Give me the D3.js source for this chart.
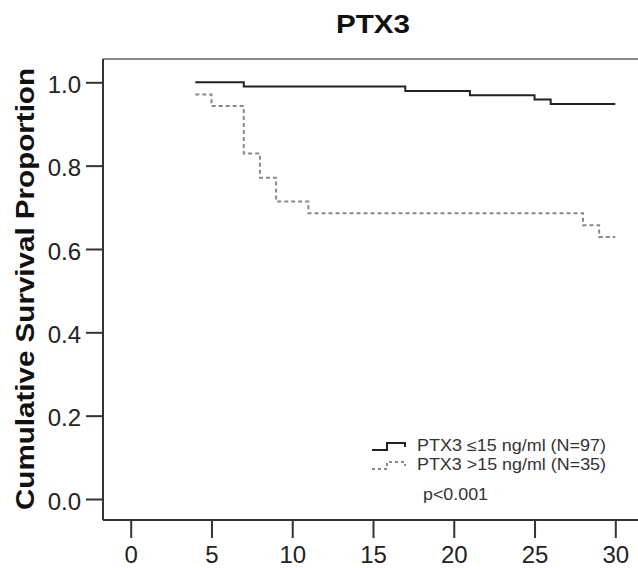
<!DOCTYPE html>
<html>
<head>
<meta charset="utf-8">
<script src="https://cdn.jsdelivr.net/npm/d3@7"></script>
<style>
body { margin: 0; background: #fff; }
svg { display: block; font-family: "Liberation Sans", Arial, sans-serif; }
</style>
</head>
<body>
<div id="chart"></div>
<script>
// survival steps (time in months, proportion)
var lowTimes = [4, 7, 17, 21, 25, 26, 30];
var lowSurv = [1.0, 0.990, 0.979, 0.969, 0.959, 0.948, 0.948];
var highTimes = [4, 5, 7, 8, 9, 11, 28, 29, 30];
var highSurv = [0.971, 0.943, 0.829, 0.771, 0.714, 0.686, 0.657, 0.629, 0.629];
var xTicks = [0, 5, 10, 15, 20, 25, 30];
var yTicks = [0, 0.2, 0.4, 0.6, 0.8, 1.0];
var legendLabels = ["PTX3 \u226415 ng/ml (N=97)", "PTX3 >15 ng/ml (N=35)"];
var titleText = "PTX3";
var yLabel = "Cumulative Survival Proportion";
var pText = "p<0.001";

var W = 638, H = 568;
var frame = { left: 103, top: 59, bottom: 520, right: 640 };

var svg = d3.select("#chart").append("svg")
	.attr("width", W).attr("height", H);

var x = d3.scaleLinear().domain([0, 30]).range([130.7, 615.3]);
var y = d3.scaleLinear().domain([0, 1]).range([499, 82.3]);

// frame: light top line, dark left and bottom axes
svg.append("line")
	.attr("x1", frame.left).attr("x2", frame.right)
	.attr("y1", frame.top).attr("y2", frame.top)
	.attr("stroke", "#8a8a8a").attr("stroke-width", 2);
svg.append("line")
	.attr("x1", frame.left).attr("x2", frame.left)
	.attr("y1", frame.top).attr("y2", frame.bottom)
	.attr("stroke", "#333").attr("stroke-width", 2);
svg.append("line")
	.attr("x1", frame.left).attr("x2", frame.right)
	.attr("y1", frame.bottom).attr("y2", frame.bottom)
	.attr("stroke", "#333").attr("stroke-width", 2);

// y axis
var yAxis = d3.axisLeft(y).tickValues(yTicks).tickSize(16).tickPadding(5)
	.tickFormat(d3.format(".1f"));
var gy = svg.append("g").attr("transform", "translate(" + (frame.left - 1) + ",0)").call(yAxis);
gy.select(".domain").remove();
gy.selectAll(".tick line").attr("stroke", "#333").attr("stroke-width", 2);
gy.selectAll(".tick text")
	.attr("fill", "#222").style("font-size", "24px")
	.attr("dy", "0.42em");

// x axis
var xAxis = d3.axisBottom(x).tickValues(xTicks).tickSize(17).tickPadding(8);
var gx = svg.append("g").attr("transform", "translate(0," + (frame.bottom + 1) + ")").call(xAxis);
gx.select(".domain").remove();
gx.selectAll(".tick line").attr("stroke", "#333").attr("stroke-width", 2);
gx.selectAll(".tick text")
	.attr("fill", "#222").style("font-size", "24px");

// curves
var step = d3.line()
	.x(function (d) { return x(d[0]); })
	.y(function (d) { return y(d[1]); })
	.curve(d3.curveStepAfter);

svg.append("path")
	.datum(d3.zip(lowTimes, lowSurv))
	.attr("d", step)
	.attr("fill", "none").attr("stroke", "#222").attr("stroke-width", 2);

svg.append("path")
	.datum(d3.zip(highTimes, highSurv))
	.attr("d", step)
	.attr("fill", "none").attr("stroke", "#888").attr("stroke-width", 2)
	.attr("stroke-dasharray", "4,3");

// title
svg.append("text")
	.attr("x", 373).attr("y", 33).attr("text-anchor", "middle")
	.attr("textLength", 74).attr("lengthAdjust", "spacingAndGlyphs")
	.style("font-size", "26px").style("font-weight", "bold").attr("fill", "#111")
	.text(titleText);

// y label
svg.append("text")
	.attr("transform", "translate(34,289) rotate(-90)")
	.attr("text-anchor", "middle")
	.attr("textLength", 442).attr("lengthAdjust", "spacingAndGlyphs")
	.style("font-size", "26px").style("font-weight", "bold").attr("fill", "#111")
	.text(yLabel);

// legend
var legendRows = [
	{ label: legendLabels[0], base: 451, stroke: "#222", dash: null },
	{ label: legendLabels[1], base: 470, stroke: "#888", dash: "3,3" }
];
var lg = svg.append("g").attr("class", "legend");
legendRows.forEach(function (r) {
	var lo = r.base - 1, hi = r.base - 8;
	var pts = [[372, lo], [387, lo], [387, hi], [405, hi], [405, lo - 3]];
	lg.append("path")
		.attr("d", d3.line()(pts))
		.attr("fill", "none").attr("stroke", r.stroke).attr("stroke-width", 2)
		.attr("stroke-dasharray", r.dash);
	lg.append("text")
		.attr("x", 417).attr("y", r.base)
		.attr("textLength", 189).attr("lengthAdjust", "spacingAndGlyphs")
		.style("font-size", "16px").attr("fill", "#333")
		.text(r.label);
});
lg.append("text")
	.attr("x", 423).attr("y", 500)
	.attr("textLength", 65).attr("lengthAdjust", "spacingAndGlyphs")
	.style("font-size", "16px").attr("fill", "#333")
	.text(pText);
</script>
</body>
</html>
